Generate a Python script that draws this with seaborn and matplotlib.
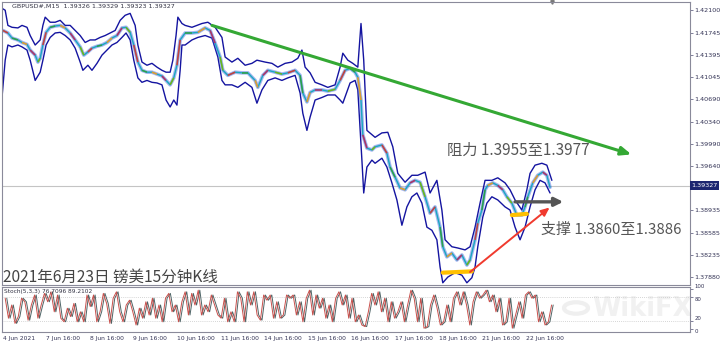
import numpy as np
import pandas as pd
import matplotlib
matplotlib.use("Agg")
import matplotlib.pyplot as plt
import seaborn as sns
from matplotlib.collections import LineCollection
from matplotlib.patches import Circle

sns.set_style("white")
plt.rcParams['font.family'] = ['DejaVu Sans', 'Noto Sans CJK SC']
CJK = ['Noto Sans CJK SC', 'DejaVu Sans']

# ---------------- data (15-minute bar index, price) ----------------
mid_bar = [2, 13, 22, 35, 44, 55, 62, 73, 79, 84,
           90, 97, 106, 117, 128, 139, 150, 161, 172, 180,
           189, 198, 209, 220, 231, 242, 253, 264, 273, 282,
           290, 299, 308, 319, 330, 341, 352, 361, 370, 378,
           385, 392, 403, 418, 431, 447, 458, 469, 480, 486,
           497, 513, 528, 541, 557, 563, 574, 585, 601, 616,
           629, 645, 656, 662, 671, 678, 689, 704, 717, 733,
           744, 755, 766, 777, 783, 790, 794, 803, 814, 821,
           836, 847, 854, 865, 876, 887, 898, 909, 920, 931,
           942, 953, 964, 970, 979, 990, 1001, 1012, 1023, 1030,
           1041, 1047, 1056, 1063, 1069, 1080, 1091, 1102, 1111, 1122,
           1133, 1144, 1151, 1157, 1168, 1179, 1190, 1199, 1206]
mid_price = [1.4178, 1.4174, 1.4166, 1.4163, 1.4159, 1.4156, 1.4147, 1.4139, 1.4128, 1.4134,
             1.4155, 1.4175, 1.4183, 1.4185, 1.4186, 1.4182, 1.4174, 1.4163, 1.4152, 1.4139,
             1.4144, 1.4150, 1.4153, 1.4155, 1.4159, 1.4166, 1.4170, 1.4182, 1.4183, 1.4175,
             1.4155, 1.4128, 1.4115, 1.4112, 1.4112, 1.4109, 1.4106, 1.4099, 1.4092, 1.4103,
             1.4123, 1.4163, 1.4174, 1.4174, 1.4175, 1.4182, 1.4178, 1.4158, 1.4136, 1.4115,
             1.4107, 1.4112, 1.4111, 1.4111, 1.4099, 1.4088, 1.4107, 1.4115, 1.4112, 1.4109,
             1.4111, 1.4115, 1.4107, 1.4079, 1.4065, 1.4080, 1.4084, 1.4084, 1.4082, 1.4085,
             1.4099, 1.4115, 1.4118, 1.4112, 1.4104, 1.4068, 1.4013, 1.3992, 1.3989, 1.3994,
             1.3997, 1.3984, 1.3962, 1.3946, 1.3929, 1.3926, 1.3937, 1.3941, 1.3938, 1.3915,
             1.3889, 1.3899, 1.3867, 1.3836, 1.3820, 1.3826, 1.3815, 1.3823, 1.3807, 1.3815,
             1.3847, 1.3873, 1.3894, 1.3926, 1.3933, 1.3937, 1.3933, 1.3926, 1.3915, 1.3905,
             1.3886, 1.3886, 1.3899, 1.3915, 1.3937, 1.3949, 1.3954, 1.3949, 1.3930]

upper_bar = [0, 7, 13, 22, 35, 44, 55, 62, 73, 84,
             90, 95, 106, 117, 128, 139, 150, 161, 172, 183,
             194, 205, 216, 227, 238, 249, 260, 271, 282, 293,
             299, 308, 319, 330, 341, 352, 361, 370, 376, 383,
             387, 396, 403, 418, 440, 453, 469, 484, 491, 506,
             519, 535, 550, 561, 579, 594, 607, 623, 638, 651,
             660, 667, 678, 689, 704, 717, 733, 744, 750, 761,
             772, 783, 790, 796, 803, 821, 836, 849, 860, 871,
             887, 902, 915, 931, 942, 957, 968, 975, 990, 1003,
             1019, 1030, 1041, 1052, 1063, 1078, 1091, 1107, 1118, 1129,
             1144, 1155, 1162, 1173, 1188, 1199, 1210]
upper_price = [1.4213, 1.4210, 1.4186, 1.4183, 1.4182, 1.4186, 1.4183, 1.4170, 1.4155, 1.4163,
               1.4186, 1.4199, 1.4191, 1.4191, 1.4194, 1.4186, 1.4186, 1.4178, 1.4170, 1.4159,
               1.4163, 1.4163, 1.4167, 1.4170, 1.4174, 1.4178, 1.4194, 1.4202, 1.4205, 1.4186,
               1.4155, 1.4128, 1.4123, 1.4126, 1.4120, 1.4115, 1.4112, 1.4112, 1.4131, 1.4170,
               1.4199, 1.4189, 1.4186, 1.4183, 1.4189, 1.4191, 1.4183, 1.4167, 1.4136, 1.4128,
               1.4134, 1.4123, 1.4126, 1.4131, 1.4128, 1.4126, 1.4120, 1.4126, 1.4128, 1.4134,
               1.4147, 1.4120, 1.4111, 1.4096, 1.4092, 1.4088, 1.4092, 1.4120, 1.4142, 1.4131,
               1.4126, 1.4120, 1.4189, 1.4131, 1.4020, 1.4009, 1.4016, 1.4017, 1.3994, 1.3952,
               1.3938, 1.3949, 1.3949, 1.3954, 1.3921, 1.3941, 1.3894, 1.3847, 1.3836, 1.3834,
               1.3831, 1.3836, 1.3867, 1.3905, 1.3941, 1.3941, 1.3945, 1.3937, 1.3926, 1.3910,
               1.3894, 1.3926, 1.3952, 1.3965, 1.3968, 1.3965, 1.3941]

lower_bar = [0, 7, 13, 22, 35, 44, 55, 62, 73, 84,
             90, 97, 106, 117, 128, 139, 150, 161, 172, 178,
             189, 198, 209, 220, 231, 242, 253, 264, 273, 282,
             290, 299, 308, 319, 330, 341, 352, 361, 370, 378,
             385, 392, 396, 403, 418, 431, 447, 462, 475, 484,
             491, 506, 519, 535, 550, 561, 572, 585, 601, 616,
             629, 645, 656, 662, 671, 678, 689, 704, 717, 733,
             744, 750, 766, 777, 783, 792, 796, 803, 814, 821,
             836, 847, 858, 869, 880, 891, 902, 913, 924, 935,
             946, 957, 964, 970, 981, 997, 1012, 1023, 1034, 1041,
             1047, 1058, 1067, 1078, 1091, 1107, 1118, 1129, 1140, 1151,
             1162, 1173, 1184, 1195, 1206]
lower_price = [1.4072, 1.4131, 1.4155, 1.4152, 1.4155, 1.4152, 1.4147, 1.4131, 1.4099, 1.4112,
               1.4131, 1.4155, 1.4167, 1.4174, 1.4175, 1.4170, 1.4163, 1.4150, 1.4128, 1.4115,
               1.4123, 1.4115, 1.4126, 1.4139, 1.4147, 1.4155, 1.4159, 1.4167, 1.4174, 1.4163,
               1.4131, 1.4103, 1.4096, 1.4099, 1.4096, 1.4095, 1.4092, 1.4068, 1.4057, 1.4068,
               1.4060, 1.4115, 1.4155, 1.4155, 1.4163, 1.4167, 1.4170, 1.4166, 1.4136, 1.4099,
               1.4092, 1.4092, 1.4088, 1.4096, 1.4088, 1.4063, 1.4084, 1.4099, 1.4103, 1.4099,
               1.4103, 1.4107, 1.4079, 1.4047, 1.4020, 1.4041, 1.4068, 1.4072, 1.4076, 1.4076,
               1.4068, 1.4063, 1.4095, 1.4099, 1.4084, 1.3973, 1.3921, 1.3962, 1.3973, 1.3968,
               1.3976, 1.3962, 1.3937, 1.3910, 1.3870, 1.3899, 1.3915, 1.3921, 1.3905, 1.3867,
               1.3862, 1.3847, 1.3804, 1.3779, 1.3788, 1.3795, 1.3791, 1.3779, 1.3787, 1.3804,
               1.3836, 1.3883, 1.3905, 1.3915, 1.3910, 1.3899, 1.3894, 1.3867, 1.3847, 1.3867,
               1.3899, 1.3926, 1.3941, 1.3937, 1.3921]

stoch_main = [77, 27, 60, 14, 31, 77, 68, 22, 60, 85, 27, 60, 89, 68, 93, 43, 85, 27, 18, 52,
              31, 64, 18, 43, 18, 85, 56, 85, 18, 43, 89, 64, 14, 77, 93, 43, 18, 60, 72, 43,
              10, 52, 27, 68, 35, 77, 27, 60, 18, 77, 89, 43, 60, 18, 68, 93, 35, 89, 60, 97,
              35, 60, 43, 85, 60, 35, 27, 77, 18, 43, 18, 93, 77, 18, 93, 60, 93, 35, 22, 85,
              72, 85, 27, 68, 27, 35, 85, 77, 85, 35, 68, 18, 77, 97, 35, 85, 52, 77, 27, 60,
              18, 77, 93, 60, 85, 27, 77, 18, 35, 10, 6, 43, 89, 60, 93, 43, 77, 18, 68, 27,
              43, 68, 18, 60, 97, 77, 18, 77, 2, 6, 60, 85, 52, 10, 18, 60, 18, 77, 93, 60,
              93, 60, 10, 68, 93, 77, 85, 97, 68, 85, 43, 77, 10, 18, 77, 2, 35, 68, 27, 85,
              93, 77, 85, 18, 43, 10, 18, 60]

current_price = 1.39327
price_ticks = [1.42100, 1.41745, 1.41395, 1.41045, 1.40690, 1.40340,
               1.39990, 1.39640, 1.38935, 1.38585, 1.38235, 1.37880]
stoch_ticks = [100, 80, 20, 0]
date_labels = ["4 Jun 2021", "7 Jun 16:00", "8 Jun 16:00", "9 Jun 16:00", "10 Jun 16:00",
               "11 Jun 16:00", "14 Jun 16:00", "15 Jun 16:00", "16 Jun 16:00",
               "17 Jun 16:00", "18 Jun 16:00", "21 Jun 16:00", "22 Jun 16:00"]
header_text = "GBPUSD#,M15  1.39326 1.39329 1.39323 1.39327"
stoch_text = "Stoch(5,3,3) 76.7096 89.2102"
title_text = "2021年6月23日 镑美15分钟K线"
resist_text = "阻力 1.3955至1.3977"
support_text = "支撑 1.3860至1.3886"
watermark_text = "WikiFX"

# ---------------- figure ----------------
W, H = 720, 344
fig = plt.figure(figsize=(7.2, 3.44), dpi=100)
fig.patch.set_facecolor('white')

def fx(px):
    return px / W

def fy(py):
    return 1 - py / H

ax = fig.add_axes([fx(2), fy(285), fx(688), 283 / H])
ax2 = fig.add_axes([fx(2), fy(332), fx(688), 45 / H])

BARS_PER_DAY = 96
XMAX = 1514

# watermark (behind everything)
fig.text(fx(642), fy(309), watermark_text, ha='center', va='center', fontsize=18.5,
         fontweight='bold', color='#f1f1f1', zorder=-5)
fig.patches.append(Circle((fx(576), fy(308)), 12 / W, transform=fig.transFigure,
                          fill=False, ec='#efefef', lw=3, zorder=-5))
ax2.set_facecolor('none')

# bands
sns.lineplot(x=upper_bar, y=upper_price, ax=ax, color='#1414a0', lw=1.0, sort=False)
sns.lineplot(x=lower_bar, y=lower_price, ax=ax, color='#1414a0', lw=1.0, sort=False)
# centre bundle
sns.lineplot(x=mid_bar, y=mid_price, ax=ax, color='#3b5fe0', lw=2.6, alpha=0.45, sort=False)
sns.lineplot(x=mid_bar, y=mid_price, ax=ax, color='#19a8c0', lw=1.0, sort=False)
pts = np.column_stack([mid_bar, mid_price])
segs = np.stack([pts[:-1], pts[1:]], axis=1)
cyc = ['#e0302a', 'none', '#2e9e3a', 'none', '#ff9a1a', 'none', '#c61f5a', 'none', '#7ab800', 'none']
cols = [cyc[i % len(cyc)] for i in range(len(segs))]
ax.add_collection(LineCollection(segs, colors=cols, linewidths=1.2, alpha=0.85))

# current price line
ax.axhline(current_price, color='#c4c4c4', lw=0.8, zorder=0)

# annotations
ax.annotate('', xy=(1385, 1.3982), xytext=(462, 1.4186),
            arrowprops=dict(arrowstyle='-|>,head_length=0.6,head_width=0.25',
                            color='#34a834', lw=2.2, shrinkA=0, shrinkB=0))
ax.annotate('', xy=(1235, 1.3907), xytext=(1129, 1.3907),
            arrowprops=dict(arrowstyle='-|>,head_length=0.5,head_width=0.25',
                            color='#555555', lw=2.4, shrinkA=0, shrinkB=0))
ax.annotate('', xy=(1205, 1.3898), xytext=(1030, 1.3796),
            arrowprops=dict(arrowstyle='-|>,head_length=0.5,head_width=0.22',
                            color='#f03a2e', lw=1.4, shrinkA=0, shrinkB=0))
ax.plot([970, 1034], [1.3795, 1.3797], color='#ffc000', lw=3, solid_capstyle='round')
ax.plot([1122, 1155], [1.3886, 1.3888], color='#ffc000', lw=3, solid_capstyle='round')

ax.set_xlim(0, XMAX)
ax.set_ylim(1.37755, 1.4223)
ax.yaxis.tick_right()
ax.set_yticks(price_ticks)
ax.set_yticklabels([f"{v:.5f}" for v in price_ticks])
ax.tick_params(axis='y', labelsize=4.6, colors='#6a6a8a', labelcolor='#333355',
               length=2, width=0.6, pad=1.2, right=True)
ax.set_xticks([])
ax.set_xlabel(''); ax.set_ylabel('')
for s in ax.spines.values():
    s.set_color('#8a8a9a'); s.set_linewidth(0.8)

# current price tag
ax.text(1.002, current_price, f"{current_price:.5f}", transform=ax.get_yaxis_transform(),
        va='center', ha='left', fontsize=4.6, color='white',
        bbox=dict(boxstyle='square,pad=0.25', fc='#1c2670', ec='none'))
# shift marker
ax.plot([1210], [1.0], marker='v', markersize=2.5, color='#777777',
        transform=ax.get_xaxis_transform(), clip_on=False)

# stochastic panel
stoch_bar = 7 + np.arange(len(stoch_main)) * 7.2
sns.lineplot(x=stoch_bar + 3.5, y=stoch_main, ax=ax2, color='#4e6466', lw=0.7, sort=False)
sns.lineplot(x=stoch_bar, y=stoch_main, ax=ax2, color='#c9504c', lw=0.7, sort=False)
for lv in (80, 20):
    ax2.axhline(lv, color='#c8c8c8', lw=0.6, ls=(0, (1, 1.5)), zorder=0)
ax2.set_xlim(0, XMAX)
ax2.set_ylim(-7.5, 105)
ax2.yaxis.tick_right()
ax2.set_yticks(stoch_ticks)
ax2.set_yticklabels([])
ax2.tick_params(axis='y', colors='#6a6a8a', length=2, width=0.6)
stoch_label_va = {100: 'bottom', 80: 'top', 20: 'bottom', 0: 'top'}
for v in stoch_ticks:
    ax2.text(1.006, v, str(v), transform=ax2.get_yaxis_transform(), fontsize=3.9,
             color='#333355', ha='left', va=stoch_label_va[v])
xt = [2] + [97 + BARS_PER_DAY * k for k in range(len(date_labels) - 1)]
ax2.set_xticks(xt)
ax2.set_xticklabels(date_labels, ha='left')
ax2.tick_params(axis='x', labelsize=4.3, colors='#6a6a8a', labelcolor='#333355',
                length=2, width=0.6, pad=1)
ax2.set_xlabel(''); ax2.set_ylabel('')
for s in ax2.spines.values():
    s.set_color('#8a8a9a'); s.set_linewidth(0.8)

# texts
fig.text(fx(12), fy(6), header_text, fontsize=4.6, color='#333344', va='center', ha='left')
fig.text(fx(4), fy(291), stoch_text, fontsize=4.2, color='#333344', va='center', ha='left')
fig.text(fx(447), fy(150), resist_text, fontsize=11, color='#555555', va='center',
         ha='left', family=CJK)
fig.text(fx(541), fy(230), support_text, fontsize=10.8, color='#555555', va='center',
         ha='left', family=CJK)
fig.text(fx(3), fy(277), title_text, fontsize=11.2, color='#444444', va='center',
         ha='left', family=CJK)

fig.savefig('out.png', dpi=100, facecolor='white')
